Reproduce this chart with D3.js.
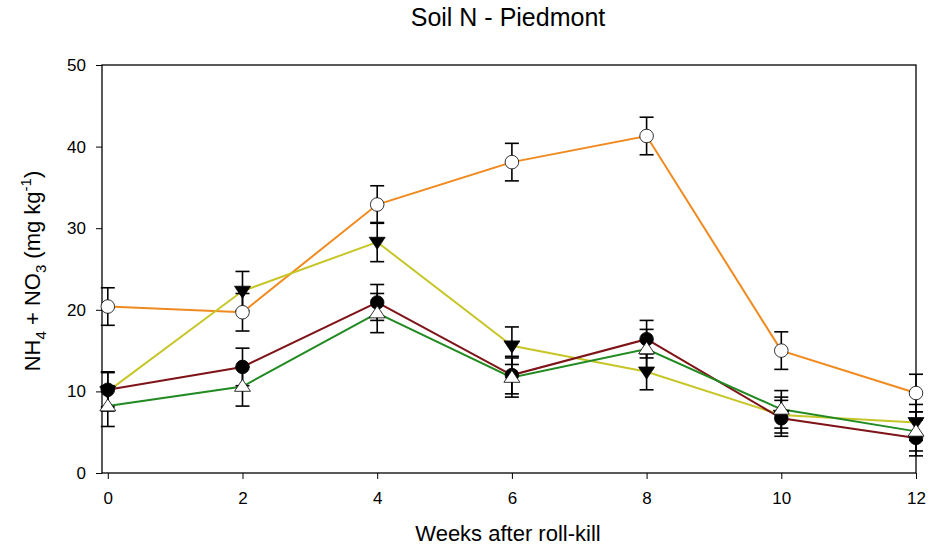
<!DOCTYPE html>
<html>
<head>
<meta charset="utf-8">
<script src="https://cdn.jsdelivr.net/npm/d3@7"></script>
<style>
  body { margin: 0; background: #fff; }
  svg { font-family: "Liberation Sans", Arial, sans-serif; }
</style>
</head>
<body>
<svg width="951" height="547"></svg>
<script>
var svg = d3.select("svg"),
	margin = {top: 65, right: 35, bottom: 74, left: 102},
	width = +svg.attr("width") - margin.left - margin.right,
	height = +svg.attr("height") - margin.top - margin.bottom;

// weeks after roll-kill
let weeks = [0, 2, 4, 6, 8, 10, 12];
let x_ticks = [0, 2, 4, 6, 8, 10, 12];
let y_ticks = [0, 10, 20, 30, 40, 50];

// series (mean, error)
let orange_mean = [20.4, 19.7, 32.9, 38.1, 41.3, 15.0, 9.8];
let orange_err  = [2.3, 2.3, 2.3, 2.3, 2.3, 2.3, 2.3];
let yellow_mean = [10.0, 22.3, 28.3, 15.6, 12.4, 7.1, 6.2];
let yellow_err  = [2.4, 2.4, 2.4, 2.3, 2.2, 2.2, 2.2];
let red_mean    = [10.2, 13.0, 20.9, 12.0, 16.4, 6.7, 4.3];
let red_err     = [2.1, 2.3, 2.2, 2.3, 2.3, 2.2, 2.2];
let green_mean  = [8.2, 10.6, 19.6, 11.7, 15.2, 7.8, 5.1];
let green_err   = [2.5, 2.4, 2.4, 2.4, 2.4, 2.3, 2.4];

let series = [
	{mean: orange_mean, err: orange_err, color: "#f08a1e", marker: "circle", fill: "#fff"},
	{mean: yellow_mean, err: yellow_err, color: "#c6c628", marker: "down", fill: "#000"},
	{mean: red_mean, err: red_err, color: "#7e1418", marker: "circle", fill: "#000"},
	{mean: green_mean, err: green_err, color: "#218a21", marker: "up", fill: "#fff"}
];

var x = d3.scaleLinear()
	.domain([-0.086, 12])
	.range([0, width]);

var y = d3.scaleLinear()
	.domain([0, 50])
	.range([height, 0]);

var focus = svg.append("g")
	.attr("transform", "translate(" + margin.left + "," + margin.top + ")");

// frame
focus.append("rect")
	.attr("width", width)
	.attr("height", height)
	.attr("fill", "none")
	.attr("stroke", "#000")
	.attr("stroke-width", 1.3);

var xAxis = d3.axisBottom(x).tickValues(x_ticks).tickSize(6).tickPadding(13),
	yAxis = d3.axisLeft(y).tickValues(y_ticks).tickSize(6).tickPadding(10);

let gx = focus.append("g")
	.attr("transform", "translate(0," + height + ")")
	.call(xAxis);
let gy = focus.append("g")
	.call(yAxis);
[gx, gy].forEach(function(g) {
	g.select(".domain").remove();
	g.selectAll("line").attr("stroke", "#000").attr("stroke-width", 1);
	g.selectAll("text")
		.style("font-size", "17px")
		.style("font-family", "Liberation Sans, Arial, sans-serif")
		.attr("fill", "#000");
});

var line = d3.line()
	.x(function(d, i) { return x(weeks[i]); })
	.y(function(d) { return y(d); });

// lines
series.forEach(function(s) {
	focus.append("path")
		.datum(s.mean)
		.attr("fill", "none")
		.attr("stroke", s.color)
		.attr("stroke-width", 2)
		.attr("d", line);
});

// error bars
series.forEach(function(s) {
	let g = focus.append("g").attr("stroke", "#000").attr("stroke-width", 1.6);
	s.mean.forEach(function(m, i) {
		let cx = x(weeks[i]);
		let top = y(m + s.err[i]), bot = y(m - s.err[i]);
		g.append("line").attr("x1", cx).attr("x2", cx).attr("y1", top).attr("y2", bot);
		g.append("line").attr("x1", cx - 7).attr("x2", cx + 7).attr("y1", top).attr("y2", top);
		g.append("line").attr("x1", cx - 7).attr("x2", cx + 7).attr("y1", bot).attr("y2", bot);
	});
});

// markers
let tri = 8;
series.forEach(function(s) {
	let g = focus.append("g");
	s.mean.forEach(function(m, i) {
		let cx = x(weeks[i]), cy = y(m);
		if (s.marker == "circle") {
			g.append("circle")
				.attr("cx", cx).attr("cy", cy).attr("r", 6.8)
				.attr("fill", s.fill).attr("stroke", "#000").attr("stroke-width", 0.8);
		} else {
			let d = s.marker == "down"
				? [[cx - tri, cy - tri * 0.6], [cx + tri, cy - tri * 0.6], [cx, cy + tri * 0.9]]
				: [[cx - tri, cy + tri * 0.6], [cx + tri, cy + tri * 0.6], [cx, cy - tri * 0.9]];
			g.append("path")
				.attr("d", "M" + d.join("L") + "Z")
				.attr("fill", s.fill).attr("stroke", "#000").attr("stroke-width", 0.8);
		}
	});
});

// title
svg.append("text")
	.attr("x", margin.left + width / 2 - 1)
	.attr("y", 26)
	.attr("text-anchor", "middle")
	.style("font-size", "25px")
	.text("Soil N - Piedmont");

// x label
svg.append("text")
	.attr("x", margin.left + width / 2 - 1)
	.attr("y", 541)
	.attr("text-anchor", "middle")
	.style("font-size", "22px")
	.text("Weeks after roll-kill");

// y label with sub/superscripts
let yl = svg.append("text")
	.attr("transform", "translate(40,271) rotate(-90)")
	.attr("text-anchor", "middle")
	.style("font-size", "22px");
yl.append("tspan").text("NH");
yl.append("tspan").attr("dy", 6).style("font-size", "15px").text("4");
yl.append("tspan").attr("dy", -6).text(" + NO");
yl.append("tspan").attr("dy", 6).style("font-size", "15px").text("3");
yl.append("tspan").attr("dy", -6).text(" (mg kg");
yl.append("tspan").attr("dy", -9).style("font-size", "15px").text("-1");
yl.append("tspan").attr("dy", 9).text(")");
</script>
</body>
</html>
